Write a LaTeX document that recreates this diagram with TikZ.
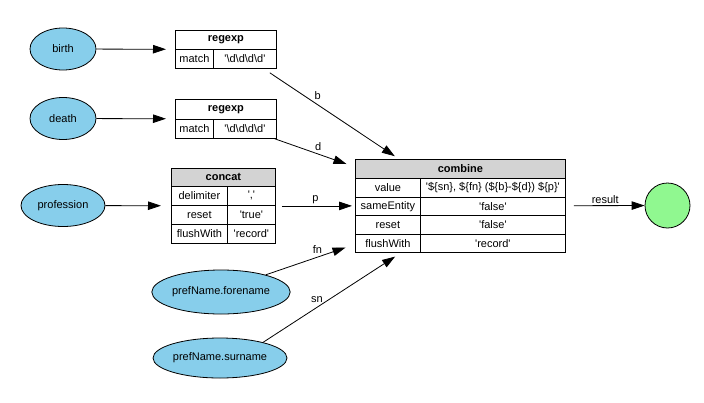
\documentclass[tikz,border=0pt]{standalone}
\usepackage{fontspec}
\setmainfont{Liberation Sans}
\usetikzlibrary{arrows.meta,shapes.geometric,positioning}
\definecolor{sky}{HTML}{87CEEB}
\definecolor{pgreen}{HTML}{90F890}
\definecolor{hdr}{HTML}{D3D3D3}
\newcommand{\sq}{\textquotesingle}
\newcommand{\bs}{\textbackslash}
\begin{document}
\begin{tikzpicture}[x=1pt,y=-1pt, font=\fontsize{11}{13}\selectfont,
 line width=0.8pt,
 ell/.style={ellipse, draw, fill=sky, inner sep=0},
 cell/.style={draw, rectangle, inner sep=0, anchor=north west},
 hcell/.style={cell, font=\fontsize{11}{13}\selectfont\bfseries},
 gcell/.style={hcell, fill=hdr},
 edge/.style={-{Triangle[length=13pt,width=8.5pt]}},
 lbl/.style={inner sep=0}
]
\useasboundingbox (0,0) rectangle (704,402);

% source ellipses
\node[ell, minimum width=66pt, minimum height=42pt] (birth) at (63,49) {birth};
\node[ell, minimum width=66pt, minimum height=42pt] (death) at (63,118.5) {death};
\node[ell, minimum width=84pt, minimum height=42pt] (prof) at (63,205.5) {profession};
\node[ell, minimum width=138pt, minimum height=44pt] (fore) at (221,292) {prefName.forename};
\node[ell, minimum width=134pt, minimum height=40pt] (sur) at (220,358) {prefName.surname};

% regexp 1
\node[cell, minimum width=101pt, minimum height=38pt] (re1) at (175,30) {};
\node[hcell, minimum width=101pt, minimum height=19pt] (re1h) at (175,30) {regexp};
\node[cell, minimum width=38pt, minimum height=19pt] (re1k) at (175,49) {match};
\node[cell, minimum width=63pt, minimum height=19pt] (re1v) at (213,49) {\sq\bs d\bs d\bs d\bs d\sq};

% regexp 2
\node[cell, minimum width=101pt, minimum height=39pt] (re2) at (175,99) {};
\node[hcell, minimum width=101pt, minimum height=20pt] (re2h) at (175,99) {regexp};
\node[cell, minimum width=38pt, minimum height=19pt] (re2k) at (175,119) {match};
\node[cell, minimum width=63pt, minimum height=19pt] (re2v) at (213,119) {\sq\bs d\bs d\bs d\bs d\sq};

% concat
\node[cell, minimum width=104pt, minimum height=75pt] (concat) at (171,168) {};
\node[gcell, minimum width=104pt, minimum height=18pt] (conh) at (171,168) {concat};
\node[cell, minimum width=56pt, minimum height=19pt] (conk1) at (171,186) {delimiter};
\node[cell, minimum width=48pt, minimum height=19pt] (conv1) at (227,186) {\sq,\sq};
\node[cell, minimum width=56pt, minimum height=19pt] (conk2) at (171,205) {reset};
\node[cell, minimum width=48pt, minimum height=19pt] (conv2) at (227,205) {\sq true\sq};
\node[cell, minimum width=56pt, minimum height=19pt] (conk3) at (171,224) {flushWith};
\node[cell, minimum width=48pt, minimum height=19pt] (conv3) at (227,224) {\sq record\sq};

% combine
\node[cell, minimum width=210pt, minimum height=93pt] (comb) at (355,159) {};
\node[gcell, minimum width=210pt, minimum height=19pt] (combh) at (355,159) {combine};
\node[cell, minimum width=65pt, minimum height=19pt] (cok1) at (355,178) {value};
\node[cell, minimum width=145pt, minimum height=19pt] (cov1) at (420,178) {\sq\$\{sn\}, \$\{fn\} (\$\{b\}-\$\{d\}) \$\{p\}\sq};
\node[cell, minimum width=65pt, minimum height=18pt] (cok2) at (355,197) {sameEntity};
\node[cell, minimum width=145pt, minimum height=18pt] (cov2) at (420,197) {\sq false\sq};
\node[cell, minimum width=65pt, minimum height=19pt] (cok3) at (355,215) {reset};
\node[cell, minimum width=145pt, minimum height=19pt] (cov3) at (420,215) {\sq false\sq};
\node[cell, minimum width=65pt, minimum height=18pt] (cok4) at (355,234) {flushWith};
\node[cell, minimum width=145pt, minimum height=18pt] (cov4) at (420,234) {\sq record\sq};

% result
\node[circle, draw, fill=pgreen, minimum size=45pt, inner sep=0] (res) at (667.5,205.5) {};

% edges
\draw[edge, shorten >=9pt] (birth) -- (re1);
\draw[edge, shorten >=9pt] (death) -- (re2);
\draw[edge, shorten >=10pt] (prof) -- (concat);
\draw[edge, shorten >=5pt] ([xshift=-7pt,yshift=-4pt]re1.south east) -- node[lbl, pos=0.37, above=5pt] (lb) {b} ([xshift=44pt]comb.north west);
\draw[edge, shorten >=9pt] ([xshift=-2pt]re2.south east) -- node[lbl, pos=0.54, above=3pt] (ld) {d} ([yshift=-8pt]comb.north west);
\draw[edge, shorten >=3pt, shorten <=6pt] (concat) -- node[lbl, pos=0.5, above=2pt] (lp) {p} (comb);
\draw[edge, shorten >=10pt] (fore.21) -- node[lbl, pos=0.58, above=3pt] (lfn) {fn} ([yshift=8.5pt]comb.south west);
\draw[edge, shorten >=7pt] (sur.20) -- node[lbl, pos=0.39, above=4pt] (lsn) {sn} ([xshift=46pt]comb.south west);
\draw[edge, shorten <=8pt] (comb) -- node[lbl, pos=0.5, above=2pt] (lres) {result} (res);
\end{tikzpicture}
\end{document}
